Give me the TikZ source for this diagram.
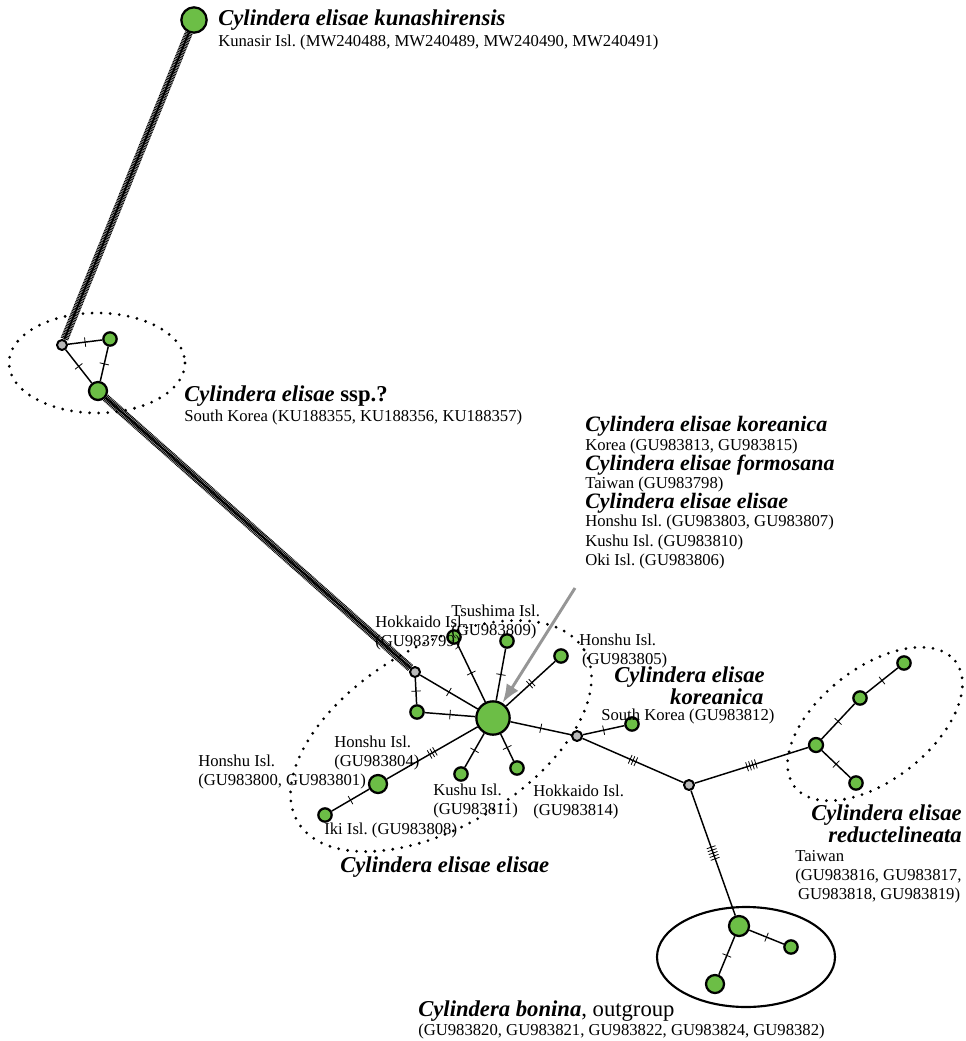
\documentclass[tikz,border=0pt]{standalone}
\usepackage{fontspec}
\setmainfont{Liberation Serif}
\usepackage{tikz}
\usetikzlibrary{arrows.meta}
\usetikzlibrary{decorations.markings}
\frenchspacing

\definecolor{hapgreen}{RGB}{108,190,70}
\definecolor{mvgray}{RGB}{185,185,185}
\definecolor{arrgray}{RGB}{150,150,150}

\tikzset{
  hap/.style={circle,draw,line width=1.7pt,fill=hapgreen,inner sep=0pt,minimum size=#1},
  mv/.style={circle,draw,line width=1.5pt,fill=mvgray,inner sep=0pt,minimum size=7.5pt},
  edge/.style={line width=1.1pt},
  mut/.style={postaction={decorate,decoration={markings,
    mark=at position 0.5 with {\foreach \k in {1,...,#1}
      {\draw[line width=0.6pt] ({(\k-(#1+1)/2)*2.3pt},-3.5pt) -- ++(0,7pt);}}}}},
  hatch/.style={line width=6pt,dash pattern=on 0.7pt off 0.5pt,
    postaction={draw,solid,line width=1.3pt}},
  dotring/.style={line width=2.3pt,dash pattern=on 0pt off 6.8pt,line cap=round},
  ttl/.style={anchor=west,inner sep=0pt,font=\fontsize{17}{18}\selectfont\bfseries\itshape},
  ttlb/.style={ttl,anchor=east,align=right,font=\fontsize{17}{#1}\selectfont\bfseries\itshape},
  lbl/.style={anchor=west,inner sep=0pt,font=\fontsize{12.5}{14.2}\selectfont},
}

\begin{document}
\begin{tikzpicture}[x=0.75pt,y=-0.75pt,line join=round]
\useasboundingbox (0,0) rectangle (966,1041);
%% groups
\draw[dotring] (97,363) ellipse [x radius=88,y radius=50];
\draw[dotring,rotate around={31:(441,736)}] (441,736) ellipse [x radius=167,y radius=90];
\draw[dotring,rotate around={38:(875,724)}] (875,724) ellipse [x radius=102,y radius=56];
\draw[line width=1.6pt] (746,957) ellipse [x radius=89,y radius=50];
%% haplotypes
\node (kun) at (194,20) [hap=19pt] {};
\node (mv_a) at (62,345) [mv] {};
\node (ssp_s) at (110,339) [hap=10pt] {};
\node (ssp_l) at (98,391) [hap=13.5pt] {};
\node (mv_b) at (415,672) [mv] {};
\node (hub) at (493,718) [hap=25pt] {};
\node (hon04) at (417,712) [hap=10pt] {};
\node (hok99) at (454,637) [hap=10pt] {};
\node (tsu09) at (507,641) [hap=10pt] {};
\node (hon05) at (561,656) [hap=10pt] {};
\node (hon00) at (378,784) [hap=13.5pt] {};
\node (iki08) at (325,815) [hap=10pt] {};
\node (kus11) at (461,774) [hap=10pt] {};
\node (hok14) at (517,768) [hap=10pt] {};
\node (mv_c) at (577,736) [mv] {};
\node (kor12) at (632,724) [hap=10pt] {};
\node (mv_d) at (689,785) [mv] {};
\node (red_a) at (816,745) [hap=10.5pt] {};
\node (red_b) at (860,698) [hap=10pt] {};
\node (red_c) at (904,663) [hap=10pt] {};
\node (red_d) at (856,783) [hap=10pt] {};
\node (bon_a) at (739,926) [hap=15pt] {};
\node (bon_b) at (791,947) [hap=10pt] {};
\node (bon_c) at (715,984) [hap=13.5pt] {};
\coordinate (arr_tail) at (575,588);
%% links
\draw [hatch] (kun) -- (mv_a);
\draw [hatch] (ssp_l) -- (mv_b);
\draw [edge,mut=1] (mv_a) -- (ssp_s);
\draw [edge,mut=1] (mv_a) -- (ssp_l);
\draw [edge,mut=1] (ssp_s) -- (ssp_l);
\draw [edge,mut=1] (mv_b) -- (hub);
\draw [edge,mut=1] (mv_b) -- (hon04);
\draw [edge,mut=1] (hon04) -- (hub);
\draw [edge,mut=1] (hok99) -- (hub);
\draw [edge,mut=1] (tsu09) -- (hub);
\draw [edge,mut=2] (hon05) -- (hub);
\draw [edge,mut=3] (hub) -- (hon00);
\draw [edge,mut=1] (hon00) -- (iki08);
\draw [edge,mut=1] (hub) -- (kus11);
\draw [edge,mut=1] (hub) -- (hok14);
\draw [edge,mut=1] (hub) -- (mv_c);
\draw [edge,mut=1] (mv_c) -- (kor12);
\draw [edge,mut=3] (mv_c) -- (mv_d);
\draw [edge,mut=4] (mv_d) -- (red_a);
\draw [edge,mut=1] (red_a) -- (red_b);
\draw [edge,mut=1] (red_b) -- (red_c);
\draw [edge,mut=1] (red_a) -- (red_d);
\draw [edge,mut=5] (mv_d) -- (bon_a);
\draw [edge,mut=1] (bon_a) -- (bon_b);
\draw [edge,mut=1] (bon_a) -- (bon_c);
\draw [arrgray,line width=2.2pt,-{Latex[length=14pt,width=10.5pt]}] (arr_tail) -- (hub);
%% labels
\node (t_kun) at (218,20) [ttl] {Cylindera elisae kunashirensis};
\node (l_kun) at (218,42) [lbl] {Kunasir Isl. (MW240488, MW240489, MW240490, MW240491)};
\node (t_ssp) at (184,396) [ttl] {Cylindera elisae \textup{ssp.?}};
\node (l_ssp) at (184,417) [lbl] {South Korea (KU188355, KU188356, KU188357)};
\node (t_kor) at (585,426) [ttl,font=\fontsize{16.5}{18}\selectfont\bfseries\itshape] {Cylindera elisae koreanica};
\node (l_kor) at (585,446) [lbl] {Korea (GU983813, GU983815)};
\node (t_for) at (585,465) [ttl,font=\fontsize{16.5}{18}\selectfont\bfseries\itshape] {Cylindera elisae formosana};
\node (l_for) at (585,484) [lbl] {Taiwan (GU983798)};
\node (t_eli) at (585,503) [ttl,font=\fontsize{16.5}{18}\selectfont\bfseries\itshape] {Cylindera elisae elisae};
\node (l_eli1) at (585,522) [lbl] {Honshu Isl. (GU983803, GU983807)};
\node (l_eli2) at (585,542) [lbl] {Kushu Isl. (GU983810)};
\node (l_eli3) at (585,561) [lbl] {Oki Isl. (GU983806)};
\node (l_hok99) at (375,633) [lbl,align=left] {Hokkaido Isl.\\(GU983799)};
\node (l_tsu09) at (451,622) [lbl,align=left] {Tsushima Isl.\\(GU983809)};
\node (l_hon05) at (579,651) [lbl,align=left] {Honshu Isl.\\\,(GU983805)};
\node (t_kor2) at (765,686) [ttlb=13.5] {Cylindera elisae\\koreanica\kern1pt};
\node (l_kor12) at (601,716) [lbl] {South Korea (GU983812)};
\node (l_hon04) at (334,753) [lbl,align=left] {Honshu Isl.\\(GU983804)};
\node (l_hon00) at (198,772) [lbl,align=left] {Honshu Isl.\\(GU983800, GU983801)};
\node (l_kus11) at (433,801) [lbl,align=left] {Kushu Isl.\\(GU983811)};
\node (l_hok14) at (533,802) [lbl,align=left] {Hokkaido Isl.\\(GU983814)};
\node (l_iki08) at (324,830) [lbl] {Iki Isl. (GU983808)};
\node (t_eli2) at (340,867) [ttl] {Cylindera elisae elisae};
\node (t_red) at (962,824) [ttlb=15] {Cylindera elisae\\reductelineata};
\node (l_red) at (795,877) [lbl,align=left] {Taiwan\\(GU983816, GU983817,\\\,GU983818, GU983819)};
\node (t_bon) at (418,1011) [ttl] {Cylindera bonina\textup{\mdseries, outgroup}};
\node (l_bon) at (418,1031) [lbl] {(GU983820, GU983821, GU983822, GU983824, GU98382)};
%
\end{tikzpicture}
\end{document}
